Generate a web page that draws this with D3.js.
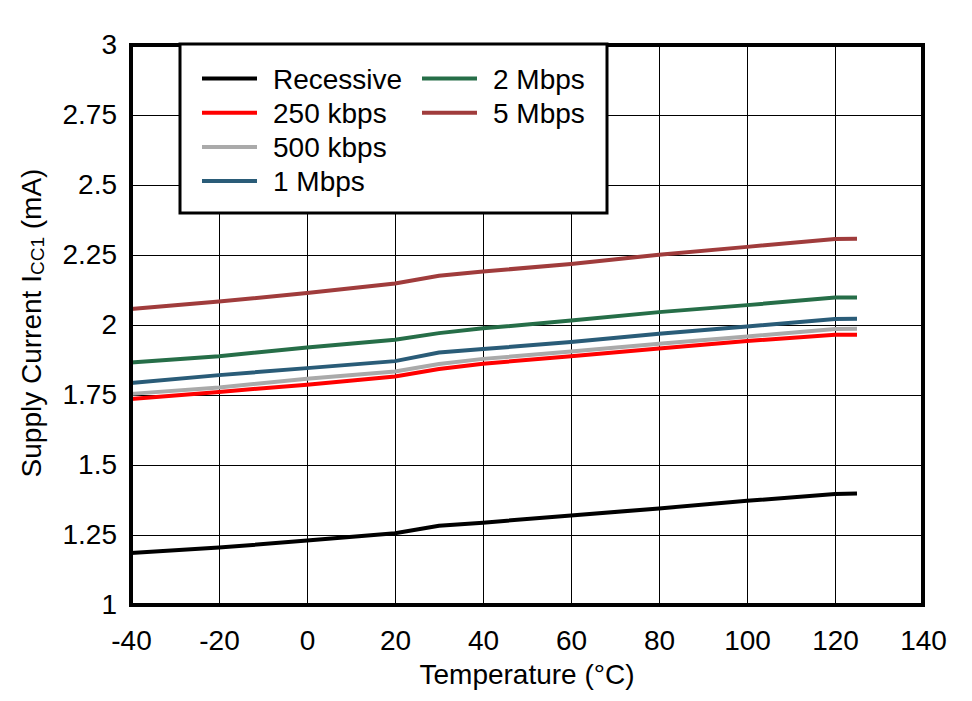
<!DOCTYPE html>
<html>
<head>
<meta charset="utf-8">
<script src="https://cdn.jsdelivr.net/npm/d3@7"></script>
<style>
  body { margin: 0; background: #fff; }
  svg { display: block; font-family: "Liberation Sans", Arial, sans-serif; }
</style>
</head>
<body>
<svg id="chart" width="972" height="701"></svg>
<script>
// Data
const temps = [-40, -20, 0, 20, 30, 40, 60, 80, 100, 120, 125];
const recessive = [1.186, 1.205, 1.230, 1.256, 1.283, 1.294, 1.320, 1.345, 1.372, 1.396, 1.398];
const kbps250 = [1.736, 1.761, 1.787, 1.816, 1.843, 1.862, 1.888, 1.916, 1.943, 1.965, 1.965];
const kbps500 = [1.754, 1.777, 1.808, 1.834, 1.861, 1.879, 1.905, 1.933, 1.959, 1.986, 1.987];
const mbps1 = [1.793, 1.821, 1.846, 1.871, 1.902, 1.914, 1.939, 1.969, 1.995, 2.021, 2.022];
const mbps2 = [1.866, 1.888, 1.920, 1.947, 1.971, 1.988, 2.016, 2.046, 2.071, 2.098, 2.098];
const mbps5 = [2.057, 2.084, 2.114, 2.148, 2.176, 2.191, 2.218, 2.251, 2.279, 2.307, 2.308];

const seriesNames = ["Recessive", "250 kbps", "500 kbps", "1 Mbps", "2 Mbps", "5 Mbps"];
const seriesColors = ["#000000", "#ff0000", "#aaaaaa", "#2a5c78", "#266e48", "#a03c3c"];
const seriesValues = [recessive, kbps250, kbps500, mbps1, mbps2, mbps5];

const xTicks = [-40, -20, 0, 20, 40, 60, 80, 100, 120, 140];
const yTicks = [1, 1.25, 1.5, 1.75, 2, 2.25, 2.5, 2.75, 3];

const svg = d3.select("#chart");
const plotLeft = 131, plotRight = 923, plotTop = 45, plotBottom = 605;
const fontSize = "28px";

const x = d3.scaleLinear().domain([-40, 140]).range([plotLeft, plotRight]);
const y = d3.scaleLinear().domain([1, 3]).range([plotBottom, plotTop]);

// Grid lines
svg.append("g")
    .selectAll("line")
    .data(xTicks)
    .join("line")
    .attr("x1", d => x(d)).attr("x2", d => x(d))
    .attr("y1", plotTop).attr("y2", plotBottom)
    .attr("stroke", "#000").attr("stroke-width", 1)
    .attr("shape-rendering", "crispEdges");

svg.append("g")
    .selectAll("line")
    .data(yTicks)
    .join("line")
    .attr("x1", plotLeft).attr("x2", plotRight)
    .attr("y1", d => y(d)).attr("y2", d => y(d))
    .attr("stroke", "#000").attr("stroke-width", 1)
    .attr("shape-rendering", "crispEdges");

// Axes tick labels (plain hyphen for negatives, like the original)
const xAxis = svg.append("g")
    .attr("transform", `translate(0,${plotBottom})`)
    .call(d3.axisBottom(x).tickValues(xTicks).tickSize(0).tickFormat(d => String(d)));
xAxis.select(".domain").remove();
xAxis.selectAll("text")
    .attr("y", 45)
    .attr("dy", 0)
    .attr("font-size", fontSize)
    .attr("fill", "#000")
    .attr("font-family", "Liberation Sans, Arial, sans-serif");

const yAxis = svg.append("g")
    .attr("transform", `translate(${plotLeft},0)`)
    .call(d3.axisLeft(y).tickValues(yTicks).tickSize(0).tickPadding(14).tickFormat(d => String(d)));
yAxis.select(".domain").remove();
yAxis.selectAll("text")
    .attr("font-size", fontSize)
    .attr("fill", "#000")
    .attr("font-family", "Liberation Sans, Arial, sans-serif");

// Series lines
const line = d3.line()
    .x((d, i) => x(temps[i]))
    .y(d => y(d));

svg.append("g")
    .selectAll("path")
    .data(seriesValues)
    .join("path")
    .attr("d", d => line(d))
    .attr("fill", "none")
    .attr("stroke", (d, i) => seriesColors[i])
    .attr("stroke-width", 4);

// Plot frame
svg.append("rect")
    .attr("x", plotLeft).attr("y", plotTop)
    .attr("width", plotRight - plotLeft).attr("height", plotBottom - plotTop)
    .attr("fill", "none").attr("stroke", "#000").attr("stroke-width", 4);

// Legend
const legend = svg.append("g");
legend.append("rect")
    .attr("x", 180).attr("y", 44)
    .attr("width", 427).attr("height", 169)
    .attr("fill", "#fff").attr("stroke", "#000").attr("stroke-width", 3);

const legendItems = legend.selectAll("g.item")
    .data(seriesNames)
    .join("g")
    .attr("class", "item")
    .attr("transform", (d, i) => {
        const col = i < 4 ? 0 : 1;
        const row = i < 4 ? i : i - 4;
        return `translate(${col === 0 ? 202 : 422},${78.5 + row * 34.2})`;
    });

legendItems.append("line")
    .attr("x1", 0).attr("x2", 55)
    .attr("y1", 0).attr("y2", 0)
    .attr("stroke", (d, i) => seriesColors[i])
    .attr("stroke-width", 4);

legendItems.append("text")
    .attr("x", 71)
    .attr("y", 10)
    .attr("font-size", fontSize)
    .text(d => d);

// Axis titles
svg.append("text")
    .attr("x", (plotLeft + plotRight) / 2)
    .attr("y", 684)
    .attr("text-anchor", "middle")
    .attr("font-size", fontSize)
    .text("Temperature (°C)");

const yTitle = svg.append("text")
    .attr("transform", `translate(41,${(plotTop + plotBottom) / 2 - 2}) rotate(-90)`)
    .attr("text-anchor", "middle")
    .attr("font-size", fontSize);
yTitle.append("tspan").text("Supply Current I");
yTitle.append("tspan").attr("font-size", "19px").attr("dy", "3").text("CC1");
yTitle.append("tspan").attr("dy", "-3").text(" (mA)");
</script>
</body>
</html>
